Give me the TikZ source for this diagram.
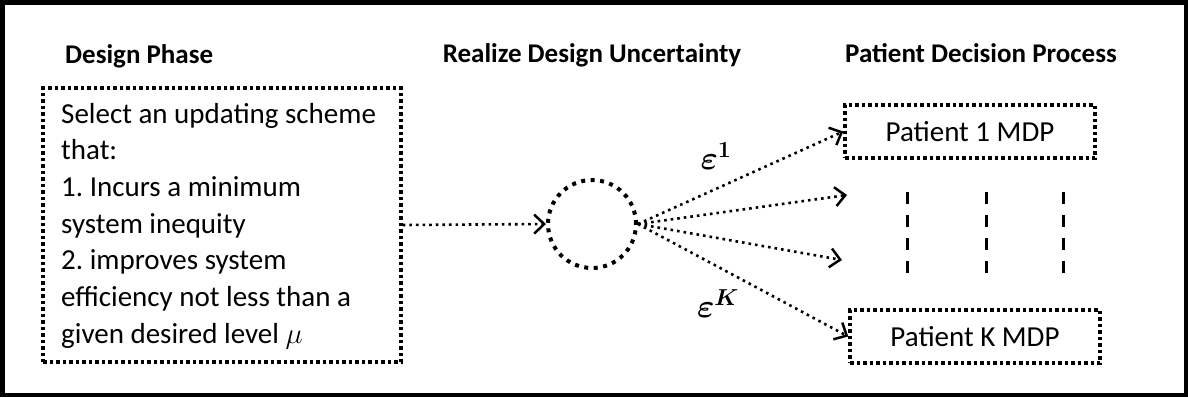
\RequirePackage{fix-cm}
\documentclass[tikz,border=0pt]{standalone}
\usepackage{amsmath}
\usepackage[no-math]{fontspec}
\setmainfont{Carlito}
\usetikzlibrary{arrows.meta}
\frenchspacing
\begin{document}
\begin{tikzpicture}[x=1pt,y=-1pt,
  dotbox/.style={draw, line width=3.5pt, dash pattern=on 3.5pt off 3pt, inner sep=0pt},
  dotcirc/.style={draw, circle, line width=4pt, dash pattern=on 4pt off 5.5pt, inner sep=0pt, minimum size=88pt},
  dotarrow/.style={line width=2.6pt, dash pattern=on 2.6pt off 4pt, -{Straight Barb[length=10pt,width=19pt,line width=2.5pt]}},
  header/.style={font=\fontsize{27}{32}\selectfont\bfseries, inner sep=0pt},
  body/.style={font=\fontsize{29}{36.7}\selectfont, inner sep=0pt},
  ptext/.style={font=\fontsize{29}{34}\selectfont},
  eps/.style={font=\fontsize{33}{38}\selectfont, inner sep=0pt},
  vdash/.style={line width=3pt, dash pattern=on 12pt off 11pt}]
\useasboundingbox (0,0) rectangle (1188,397);
\draw[line width=4.5pt] (2.25,2.25) rectangle (1185.75,394.75);

% headers
\node[header, anchor=base west] (h1) at (65,63) {Design Phase};
\node[header, anchor=base] (h2) at (592,62) {Realize Design Uncertainty};
\node[header, anchor=base] (h3) at (981,62) {Patient Decision Process};

% design box
\node[dotbox, minimum width=358pt, minimum height=274pt] (design) at (222,225) {};
\node[body, anchor=base west] (dtext) at (61,123) {\parbox[t]{335pt}{\raggedright
Select an updating scheme\\
that:\\
1. Incurs a minimum\\
system inequity\\
2. improves system\\
efficiency not less than a\\
given desired level $\mu$}};

% circle
\node[dotcirc] (circ) at (592,224) {};

% patient boxes
\node[dotbox, ptext, minimum width=250pt, minimum height=53pt] (p1) at (970,131.5) {Patient 1 MDP};
\node[dotbox, ptext, minimum width=250pt, minimum height=53pt] (pk) at (975,336.5) {Patient K MDP};

\coordinate (a2) at (847,195);
\coordinate (a3) at (842,260);

% connectors
\draw[dotarrow] (design.east) -- (circ.west);
\draw[dotarrow] (circ.east) -- (p1.west);
\draw[dotarrow] (circ.east) -- (a2);
\draw[dotarrow] (circ.east) -- (a3);
\draw[dotarrow] (circ.east) -- (pk.west);

% labels
\node[eps] (e1) at (716,156) {$\boldsymbol{\varepsilon}^{\mathbf{1}}$};
\node[eps] (ek) at (718,304) {$\boldsymbol{\varepsilon}^{\boldsymbol{K}}$};

% vertical dashed lines
\draw[vdash] (907,192) -- (907,273);
\draw[vdash] (986,192) -- (986,273);
\draw[vdash] (1063,192) -- (1063,273);
\end{tikzpicture}
\end{document}
